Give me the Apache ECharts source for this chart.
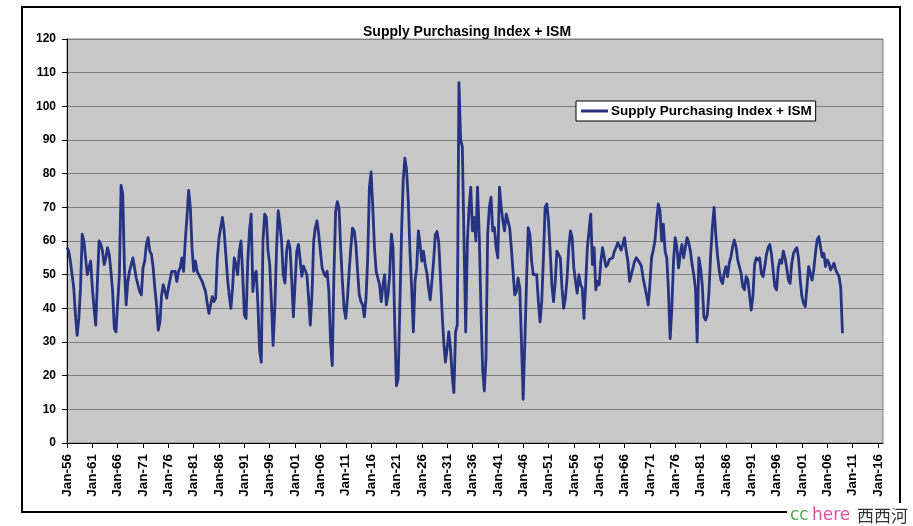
<!DOCTYPE html>
<html>
<head>
<meta charset="utf-8">
<script src="https://cdn.jsdelivr.net/npm/echarts@6/dist/echarts.min.js"></script>
<style>
html,body{margin:0;padding:0;background:#fff;}
#chart{width:913px;height:526px;}
</style>
</head>
<body>
<div id="chart"></div>
<script>
// Tick labels of the category (time) axis, as printed on the chart
const tickLabels = ['Jan-56','Jan-61','Jan-66','Jan-71','Jan-76','Jan-81','Jan-86','Jan-91','Jan-96','Jan-01','Jan-06','Jan-11','Jan-16',
  'Jan-21','Jan-26','Jan-31','Jan-36','Jan-41','Jan-46','Jan-51',
  'Jan-56','Jan-61','Jan-66','Jan-71','Jan-76','Jan-81','Jan-86','Jan-91','Jan-96','Jan-01','Jan-06','Jan-11','Jan-16'];
const pointsPerLabel = 15;   // sampled points between two labelled ticks
const trailingPoints = 3;    // empty categories after the last tick

// Series values, in consecutive segments
const segA = [58,57,54,50,46,38,32,37,46,62, 60,55,50,52,54,46,40,35,48,60, 59,57,53,55,58,56,51,45,34,33,
  33.5,50,76.5,74,52,41,48,51,53,55, 52,49,47,45,44,52,54,59,61,57, 56,52,46,41,33.5,36,44,47,45,43,
  46,48.5,51,50.5,51,48,51,52,55,51, 60,67,75,70,58,51,54];
const segB = [51,50,49,48,46.5,45,41.5,38.5,39,43.5, 42,43,55,61,64,67,63,56,49,44, 40,46,55,53,50,57,60,50,38,37,
  54,63,68,45,50,51,41,27.5,24,60, 68,67,57,53,42,29,40,57,69,65, 60,50,47.5,57,60,58,48.5,37.5,47.5,57,
  59,54.5,49.5,52.5,52.5,50,43,35,44,60, 64,66,62,57,52,50.5,49.5];
const segC = [51,45,30,23,50,68.7,71.7,69.7,58,48, 40,37,43,51,58,63.8,63,59,51,44, 42,41,37.5,43,55,76,80.5,70,58,51,
  50.5,47,42,47,50,41,44,50,62,58, 35,17,19,40,62,78,84.6,81,72,57, 46,33,48,52,63,59,54,57,53,50.5,
  46,42.5,48,54,61.8,62.8,59.8,50,39,30, 24,28,33,28];
const segD = [20,15,33,35,107,90,88,60,33,60, 70,76,63,67,60,76,62,40,22,15.5, 25,62,70,73,63,64,58,55,76,70,
  66,63,68,66,64,58,51,44,45,49, 46,30,13,30,48,64,62,54,50,50, 50,42,36,42,55,70,71,66,57,47,
  42,48,57,57,55,46,40,43,49,58, 63,61,52,48,44.5,50,47];
const segE = [46,37,47,58,63,68,53,58,45.5,48, 47,54,58,58,52.4,53,54.5,55,55,57, 58,59.5,58.5,57.3,59,61,57,54,48,48,
  52,54,55,55,53.5,52.5,49,46.5,44,41, 47,55,57.3,60,66,71,69,60,65,57, 55,45.5,31,40,54,61,58,52,56,59,
  55,58,61,59.5,57,53,50,46,30,55, 52,47,37.5,36.5,38,45,56];
const segF = [64,70,62,56,51.5,48.5,47.4,50.4,52.4,49.4, 53.4,55.3,58.3,60.3,58.3,54.4,52.4,50.4,46.4,45.5,
  49.4,48.4,44,39.5,43.5,53,55,54.4,55,50.4, 49.4,52.4,56,58,59,56,51,46.4,45.5,52,
  54.4,53.4,57,55,52,48.4,47.4,53.4,56.3,57.3, 58,55,48.4,43.5,41.5,40.5,46.4,52.4,50.4,48.4,
  51.4,56.3,60.3,61.3,58.3,55.3,56.3,52.4,54.4,53.4, 51.4,52.4,53.4,51.4,50.4,49.4,46,32.6];

const seriesName = 'Supply Purchasing Index + ISM';
const values = [].concat(segA, segB, segC, segD, segE, segF);

// category axis built from the tick labels
const categories = [];
tickLabels.forEach((lab, i) => {
  categories.push(lab);
  const blanks = (i < tickLabels.length - 1) ? pointsPerLabel - 1 : trailingPoints;
  for (let j = 0; j < blanks; j++) categories.push('');
});

const FONT = '"Liberation Sans", Arial, sans-serif';
const LINE_COLOR = '#263282';
const chart = echarts.init(document.getElementById('chart'), null, {renderer: 'canvas'});
chart.setOption({
  animation: false,
  backgroundColor: '#ffffff',
  title: {
    text: seriesName,
    left: 358,
    top: 20,
    textStyle: {fontFamily: FONT, fontSize: 14, fontWeight: 'bold', color: '#000'}
  },
  legend: {
    left: 576,
    top: 101,
    padding: [3, 4, 3, 5],
    backgroundColor: '#ffffff',
    borderColor: '#000',
    borderWidth: 1,
    borderRadius: 0,
    itemWidth: 27,
    itemHeight: 3,
    itemGap: 4,
    textStyle: {fontFamily: FONT, fontSize: 13.5, fontWeight: 'bold', color: '#000', padding: [0, 0, 0, -2]},
    data: [{name: seriesName, icon: 'rect'}]
  },
  grid: {
    left: 67, top: 39, width: 816, height: 404,
    show: true,
    backgroundColor: '#c8c8c8',
    borderColor: '#808080',
    borderWidth: 1,
    containLabel: false
  },
  xAxis: {
    type: 'category',
    data: categories,
    boundaryGap: false,
    axisLine: {lineStyle: {color: '#000', width: 1}},
    axisTick: {show: true, interval: pointsPerLabel - 1, length: 5, lineStyle: {color: '#000'}},
    axisLabel: {
      interval: pointsPerLabel - 1,
      rotate: 90,
      margin: 11,
      fontFamily: FONT, fontSize: 13.5, fontWeight: 'bold', color: '#000'
    },
    splitLine: {show: false}
  },
  yAxis: {
    type: 'value',
    min: 0, max: 120, interval: 10,
    axisLine: {show: true, lineStyle: {color: '#000', width: 1}},
    axisTick: {show: true, length: 5, lineStyle: {color: '#000'}},
    axisLabel: {margin: 11, fontFamily: FONT, fontSize: 12, fontWeight: 'bold', color: '#000'},
    splitLine: {show: true, lineStyle: {color: '#808080', width: 1}}
  },
  series: [{
    name: seriesName,
    type: 'line',
    data: values,
    showSymbol: false,
    symbol: 'none',
    lineStyle: {color: LINE_COLOR, width: 2.8, join: 'round'},
    itemStyle: {color: LINE_COLOR},
    emphasis: {disabled: true}
  }],
  graphic: [
    {type: 'rect', shape: {x: 22, y: 7, width: 878, height: 505}, style: {fill: 'none', stroke: '#000', lineWidth: 2}, z: 100, silent: true},
    {type: 'rect', shape: {x: 787, y: 503, width: 126, height: 23}, style: {fill: '#fff'}, z: 101, silent: true},
    {type: 'text', x: 790, y: 524, style: {text: 'cc', font: '17px "DejaVu Sans", sans-serif', fill: '#4fa84f', verticalAlign: 'bottom'}, z: 102, silent: true},
    {type: 'text', x: 812, y: 524, style: {text: 'here', font: '17px "DejaVu Sans", sans-serif', fill: '#e0509a', verticalAlign: 'bottom'}, z: 102, silent: true},
    {type: 'text', x: 857, y: 524, style: {text: '西西河', font: '17px "Noto Sans CJK SC", sans-serif', fill: '#333', verticalAlign: 'bottom'}, z: 102, silent: true}
  ]
});
</script>
</body>
</html>
